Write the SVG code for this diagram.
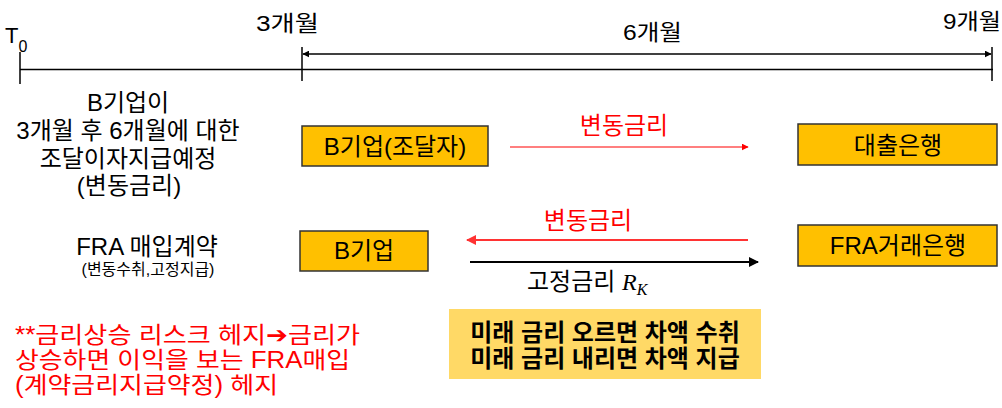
<svg xmlns="http://www.w3.org/2000/svg" width="1002" height="408" viewBox="0 0 1002 408">
<style>
text{font-family:"Liberation Sans","Noto Sans CJK KR",sans-serif;font-size:24px;fill:#000}
.red{fill:#FF0000}
.note{font-size:23px}
.node rect{fill:#FFC000;stroke:#333;stroke-width:1.5}
.ln{stroke:#000;stroke-width:1.5;fill:none}
.mid{text-anchor:middle}
</style>
<defs>
<marker id="ah" viewBox="0 0 10 10" refX="9" refY="5" markerWidth="7" markerHeight="7" markerUnits="userSpaceOnUse" orient="auto-start-reverse"><path d="M0,0L10,5L0,10z" fill="#000"/></marker>
<marker id="ahr" viewBox="0 0 10 10" refX="9" refY="5" markerWidth="7" markerHeight="7" markerUnits="userSpaceOnUse" orient="auto"><path d="M0,0L10,5L0,10z" fill="#FF0000"/></marker>
<marker id="ahr2" viewBox="0 0 10 10" refX="9" refY="5" markerWidth="10" markerHeight="10" markerUnits="userSpaceOnUse" orient="auto"><path d="M0,0L10,5L0,10z" fill="#FF3333"/></marker>
<marker id="ahk" viewBox="0 0 10 10" refX="9" refY="5" markerWidth="10" markerHeight="10" markerUnits="userSpaceOnUse" orient="auto"><path d="M0,0L10,5L0,10z" fill="#000"/></marker>
</defs>
<g id="timeline">
<line class="ln" x1="20" y1="69.5" x2="993" y2="69.5"/>
<line class="ln" x1="20" y1="52" x2="20" y2="84"/>
<line class="ln" x1="302" y1="47" x2="302" y2="81"/>
<line class="ln" x1="992" y1="47" x2="992" y2="81"/>
<line class="ln" x1="303" y1="54" x2="991" y2="54" marker-start="url(#ah)" marker-end="url(#ah)"/>
<text x="5" y="43" style="font-size:22px">T<tspan style="font-size:16px" dy="9">0</tspan></text>
<text x="256" y="31" style="font-size:22px" textLength="63" lengthAdjust="spacingAndGlyphs">3개월</text>
<text x="623" y="40" style="font-size:22px" textLength="59" lengthAdjust="spacingAndGlyphs">6개월</text>
<text x="943" y="29" style="font-size:22px" textLength="58" lengthAdjust="spacingAndGlyphs">9개월</text>
</g>
<g id="left-text">
<text class="mid" x="128" y="111">B기업이</text>
<text class="mid" x="128" y="139">3개월 후 6개월에 대한</text>
<text class="mid" x="128" y="167">조달이자지급예정</text>
<text class="mid" x="129" y="194">(변동금리)</text>
<text class="mid" x="147" y="255">FRA 매입계약</text>
<text class="mid" x="148" y="275" style="font-size:16px">(변동수취,고정지급)</text>
</g>
<g id="node-b-funder" class="node"><rect x="302" y="126" width="186" height="40"/><text class="mid" x="395" y="155">B기업(조달자)</text></g>
<g id="node-loan-bank" class="node"><rect x="798" y="124" width="199" height="41"/><text class="mid" x="898" y="154">대출은행</text></g>
<g id="node-b" class="node"><rect x="300" y="231" width="128" height="40"/><text class="mid" x="364" y="259">B기업</text></g>
<g id="node-fra-bank" class="node"><rect x="798" y="225" width="199" height="41"/><text class="mid" x="898" y="254">FRA거래은행</text></g>
<g id="connectors">
<line x1="510" y1="147" x2="748" y2="147" stroke="#FF0000" stroke-width="1.2" marker-end="url(#ahr)"/>
<text class="mid red" x="624" y="134">변동금리</text>
<line x1="748" y1="240" x2="467" y2="240" stroke="#FF3333" stroke-width="2" marker-end="url(#ahr2)"/>
<text class="mid red" x="588" y="229">변동금리</text>
<line x1="470" y1="262" x2="758" y2="262" stroke="#000" stroke-width="2" marker-end="url(#ahk)"/>
<text x="527" y="290">고정금리 <tspan font-family="Liberation Serif" font-style="italic">R</tspan><tspan font-family="Liberation Serif" font-style="italic" style="font-size:16px" dy="5">K</tspan></text>
</g>
<g id="note">
<text class="red note" x="15" y="343" textLength="345" lengthAdjust="spacingAndGlyphs">**금리상승 리스크 헤지<tspan style="font-family:'DejaVu Sans',sans-serif;font-size:23px">➔</tspan>금리가</text>
<text class="red note" x="15" y="368" textLength="335" lengthAdjust="spacingAndGlyphs">상승하면 이익을 보는 FRA매입</text>
<text class="red note" x="15" y="393" textLength="263" lengthAdjust="spacingAndGlyphs">(계약금리지급약정) 헤지</text>
</g>
<g id="summary">
<rect x="449" y="309" width="312" height="70" fill="#FFD966"/>
<text class="mid" x="605" y="341" font-weight="bold">미래 금리 오르면 차액 수취</text>
<text class="mid" x="605" y="367" font-weight="bold">미래 금리 내리면 차액 지급</text>
</g>
</svg>
